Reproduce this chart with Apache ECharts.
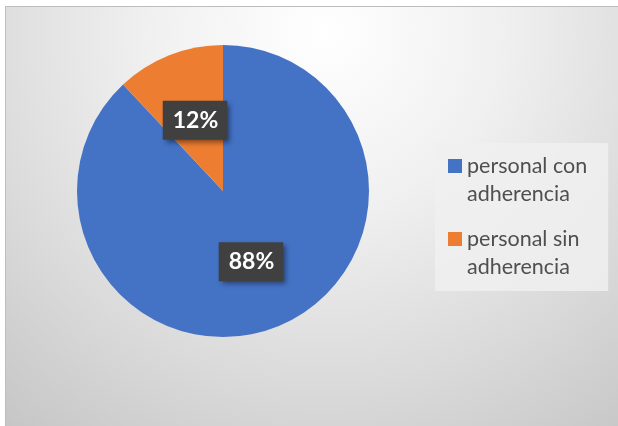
<!DOCTYPE html>
<html>
<head>
<meta charset="utf-8">
<script src="https://cdn.jsdelivr.net/npm/echarts@6/dist/echarts.min.js"></script>
<style>
  html, body { margin: 0; padding: 0; background: #ffffff; width: 618px; height: 426px; overflow: hidden; }
  #chart {
    position: absolute; left: 5px; top: 6px;
    width: 612px; height: 419px;
    border-top: 1px solid #bdbdbd; border-left: 1px solid #bdbdbd;
    background: radial-gradient(circle farthest-corner at 52% 6%, #ffffff 0%, #f0f0f0 35%, #dadada 70%, #c6c6c6 100%);
  }
</style>
</head>
<body>
<div id="chart"></div>
<script>
// Adherence breakdown of staff
const categories = ['personal con adherencia', 'personal sin adherencia'];
const legendLabels = ['personal con\nadherencia', 'personal sin\nadherencia'];
const shares = [88, 12];
const colors = ['#4472C4', '#ED7D31'];

// square legend marker sitting on the first text line of a two-line label
const markerPath = 'path://M0,0h0.001v0.001h-0.001z M0,0.5h1v1h-1z M0,4h0.001v0.001h-0.001z';

const chart = echarts.init(document.getElementById('chart'), null, { renderer: 'canvas' });

chart.setOption({
  backgroundColor: 'transparent',
  animation: false,
  color: colors,
  legend: {
    orient: 'vertical',
    left: 429,
    top: 136,
    padding: [9, 21, 10, 13],
    backgroundColor: 'rgba(240,240,240,0.85)',
    itemWidth: 14,
    itemHeight: 56,
    itemGap: 17,
    icon: markerPath,
    data: categories,
    formatter: name => legendLabels[categories.indexOf(name)],
    textStyle: {
      fontFamily: 'Lato',
      fontSize: 21.5,
      lineHeight: 28,
      color: '#4f4f4f'
    }
  },
  series: [{
    type: 'pie',
    center: [217, 184],
    radius: [0, 146],
    startAngle: 90,
    clockwise: true,
    avoidLabelOverlap: false,
    data: categories.map((c, i) => ({ name: c, value: shares[i] })),
    itemStyle: { borderWidth: 0 },
    label: {
      show: true,
      position: 'inside',
      formatter: p => p.value + '%',
      fontFamily: 'Lato',
      fontWeight: 'bold',
      fontSize: 23,
      color: '#ffffff',
      backgroundColor: '#404040',
      padding: [9, 9, 7, 10],
      shadowColor: 'rgba(0,0,0,0.45)',
      shadowBlur: 5,
      shadowOffsetX: 3,
      shadowOffsetY: 3
    },
    labelLine: { show: false },
    emphasis: { disabled: true }
  }]
});
</script>
</body>
</html>
